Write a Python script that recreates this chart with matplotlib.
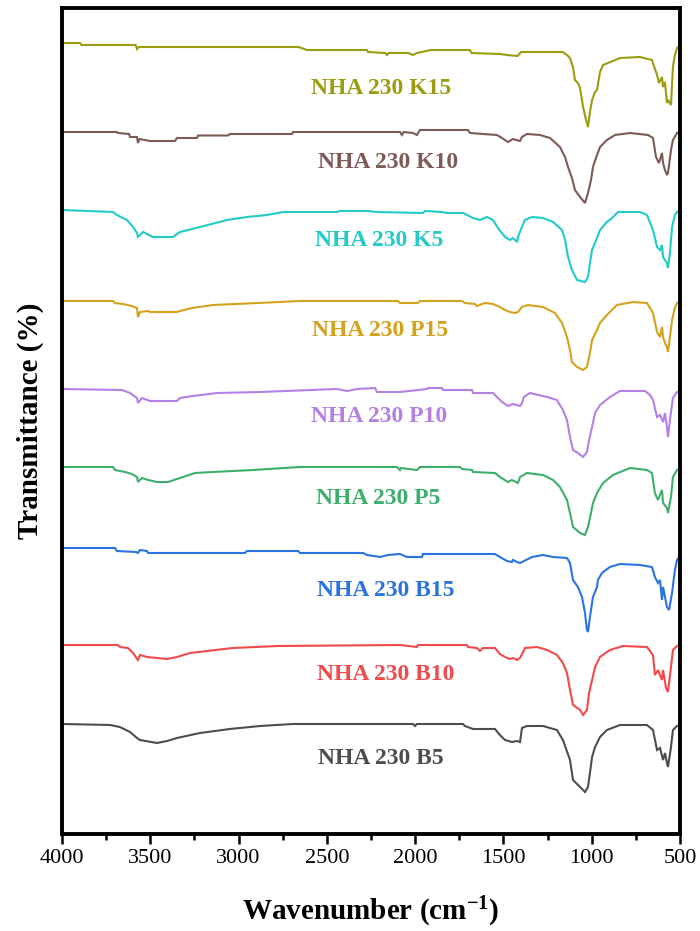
import matplotlib
matplotlib.use("Agg")
import matplotlib.pyplot as plt
from matplotlib.ticker import MultipleLocator

plt.rcParams['font.family'] = ['Liberation Serif', 'DejaVu Serif']
plt.rcParams['mathtext.fontset'] = 'custom'
plt.rcParams['mathtext.rm'] = 'Liberation Serif:bold'
plt.rcParams['mathtext.default'] = 'rm'

# ---- data: wavenumber (cm-1) and relative transmittance of each spectrum ----
labels = ["NHA 230 K15", "NHA 230 K10", "NHA 230 K5", "NHA 230 P15", "NHA 230 P10",
          "NHA 230 P5", "NHA 230 B15", "NHA 230 B10", "NHA 230 B5"]
colors = ["#9c9c10", "#7e5a55", "#22caca", "#d4a21c", "#b580e6",
          "#3dae6c", "#2a73e0", "#f24a4a", "#4d4d4d"]

wn_k15 = [4000, 3898, 3890, 3583, 3575, 3565, 2660, 2613, 2273, 2267, 2170, 2160, 2150, 2040, 2012, 1990,
          1910, 1690, 1680, 1520, 1480, 1420, 1400, 1165, 1140, 1123, 1106, 1095, 1078, 1066, 1049, 1032,
          1021, 1010, 998, 981, 970, 953, 936, 880, 840, 727, 659, 630, 619, 602, 596, 585, 574, 568, 551,
          540, 529, 517, 500]
t_k15 = [0, 0, -2, -2, -6, -4, -4, -7, -7, -9, -10, -12, -10, -10, -12, -10,
         -7, -7, -10, -11, -12, -13, -9, -9, -12, -15, -24, -37, -40, -45, -64, -77,
         -84, -69, -57, -49, -47, -29, -22, -18, -15, -14, -17, -32, -40, -34, -44, -39, -60, -57, -62,
         -24, -12, -5, -2]

wn_k10 = [4000, 3690, 3683, 3620, 3615, 3575, 3570, 3560, 3502, 3360, 3349, 3236, 3230, 3060, 3049, 2697,
          2692, 2086, 2075, 2065, 2012, 1990, 1973, 1701, 1689, 1537, 1508, 1474, 1446, 1406, 1395, 1367,
          1293, 1236, 1180, 1151, 1134, 1112, 1095, 1066, 1038, 1021, 1004, 993, 970, 953, 914, 868, 783,
          681, 653, 636, 619, 602, 596, 585, 574, 568, 551, 540, 517, 500]
t_k10 = [0, 0, -1, -2, -5, -5, -11, -7, -9, -9, -6, -6, -3.5, -3.5, -2, -2,
         0, 0, -3, 0, -1, -3, 2, 2, -1, -3, -6, -10, -7, -9, -5, -2,
         -3, -6, -15, -25, -35, -46, -58, -65, -71, -61, -48, -35, -23, -15, -8, -3, -1,
         -3, -6, -25, -31, -21, -31, -38, -43, -41, -18, -8, -1, 0]

wn_k5 = [4000, 3711, 3689, 3632, 3598, 3575, 3570, 3541, 3485, 3371, 3332, 3218, 3066, 2952, 2839, 2748,
         2443, 2426, 2273, 2216, 1956, 1944, 1848, 1820, 1729, 1672, 1633, 1593, 1559, 1531, 1491, 1463,
         1446, 1423, 1418, 1395, 1378, 1338, 1276, 1219, 1168, 1151, 1134, 1112, 1083, 1038, 1021, 1010,
         998, 970, 953, 914, 885, 851, 727, 687, 653, 630, 613, 602, 596, 574, 568, 557, 545, 529, 517, 500]
t_k5 = [0, -2, -5, -10, -17, -23, -27, -22, -27, -27, -22, -17, -10, -7, -5, -2,
        -2, -1, -1, -2, -3, -1, -2, -3, -3, -8, -10, -7, -10, -18, -27, -30,
        -28, -32, -27, -17, -10, -7, -8, -12, -20, -30, -47, -60, -70, -72, -67, -53,
        -40, -28, -20, -12, -8, -2, -2, -5, -20, -37, -40, -35, -47, -53, -58, -43, -17, -5, -2, -1]

wn_p15 = [4000, 3711, 3700, 3655, 3604, 3575, 3570, 3558, 3513, 3502, 3349, 3332, 3264, 3145, 2890, 2652,
          2097, 2086, 1984, 1973, 1735, 1718, 1661, 1650, 1605, 1559, 1520, 1491, 1463, 1434, 1418, 1395,
          1361, 1276, 1208, 1168, 1140, 1123, 1112, 1083, 1049, 1027, 1010, 998, 970, 953, 914, 857, 766,
          687, 653, 630, 613, 602, 596, 585, 574, 568, 557, 545, 529, 517, 500]
t_p15 = [0, 0, -2, -3, -5, -7, -16, -11, -10, -11, -11, -10, -7, -4, -2, 0,
         0, -2, -2, 0, 0, -2, -3, -5, -2, -3, -6, -9, -11, -12, -11, -6,
         -4, -6, -12, -22, -36, -49, -61, -66, -69, -66, -52, -39, -29, -22, -14, -4, -1,
         -2, -12, -31, -36, -26, -36, -42, -46, -51, -36, -19, -7, -2, -1]

wn_p10 = [4000, 3660, 3615, 3575, 3570, 3547, 3502, 3349, 3332, 3258, 3122, 2879, 2443, 2386, 2329, 2227,
          2216, 2086, 1933, 1927, 1848, 1842, 1678, 1672, 1559, 1537, 1508, 1474, 1446, 1406, 1395, 1384,
          1350, 1253, 1197, 1163, 1140, 1123, 1106, 1078, 1049, 1027, 1015, 998, 981, 953, 897, 840, 698,
          670, 653, 630, 613, 596, 585, 574, 568, 557, 540, 517, 500]
t_p10 = [0, -1, -4, -9, -14, -9, -12, -12, -9, -7, -4, -3, 0, -2, 0, 1,
         -3, -3, 0, 1, 1, -1, -1, -4, -4, -8, -13, -17, -15, -17, -14, -8,
         -4, -8, -11, -21, -31, -48, -61, -64, -68, -63, -51, -38, -24, -16, -8, -2, -2,
         -6, -11, -28, -26, -33, -24, -38, -48, -31, -9, -3, -2]

wn_p5 = [4000, 3711, 3700, 3643, 3604, 3575, 3570, 3547, 3513, 3462, 3400, 3332, 3247, 3145, 2918, 2652,
         2103, 2086, 2080, 1990, 1973, 1746, 1735, 1678, 1672, 1548, 1520, 1474, 1452, 1418, 1406, 1367,
         1276, 1219, 1180, 1140, 1123, 1106, 1066, 1038, 1021, 1004, 993, 970, 936, 880, 783, 687, 659,
         642, 625, 602, 596, 574, 568, 551, 540, 517, 500]
t_p5 = [0, 0, -3, -5, -7, -10, -15, -11, -13, -15, -15, -11, -6, -5, -3, 0,
        0, -3, -1, -3, 0, 0, -2, -3, -5, -6, -10, -15, -13, -16, -10, -6,
        -8, -13, -20, -33, -46, -60, -66, -68, -60, -46, -36, -26, -16, -8, -1, -3, -6,
        -26, -33, -23, -36, -41, -46, -30, -10, -3, -2]

wn_b15 = [4000, 3700, 3689, 3580, 3570, 3558, 3519, 3513, 2964, 2952, 2663, 2652, 2295, 2273, 2199, 2154,
          2086, 2046, 1961, 1956, 1548, 1520, 1480, 1452, 1446, 1423, 1406, 1338, 1276, 1219, 1140, 1123,
          1106, 1078, 1055, 1038, 1027, 1021, 1010, 993, 970, 965, 942, 897, 840, 727, 659, 642, 625,
          613, 602, 596, 574, 562, 545, 529, 517, 500]
t_b15 = [0, 0, -3, -4, -5, -2, -3, -5, -5, -3, -3, -5, -5, -7, -9, -7,
         -6, -9, -9, -6, -6, -9, -13, -14, -12, -14, -15, -9, -7, -9, -10, -15,
         -32, -39, -49, -65, -82, -84, -69, -49, -39, -32, -25, -19, -16, -17, -19, -29, -35,
         -32, -52, -39, -59, -62, -45, -22, -12, -8]

wn_b10 = [4000, 3683, 3672, 3626, 3598, 3570, 3558, 3519, 3462, 3405, 3349, 3275, 3179, 3032, 2777, 2086,
          1990, 1984, 1707, 1701, 1650, 1633, 1616, 1548, 1520, 1491, 1463, 1446, 1423, 1406, 1378, 1310,
          1253, 1197, 1163, 1140, 1123, 1106, 1066, 1049, 1027, 1015, 998, 981, 953, 897, 823, 687, 653,
          642, 625, 602, 596, 579, 568, 551, 540, 517, 500]
t_b10 = [0, 0, -2, -3, -8, -15, -10, -12, -13, -14, -12, -8, -6, -3, -1, 0,
         -2, 0, 0, -2, -3, -6, -3, -3, -9, -12, -14, -13, -15, -13, -3, -2,
         -5, -10, -18, -28, -45, -60, -65, -70, -65, -48, -35, -22, -12, -5, -1, -2, -10,
         -30, -25, -35, -25, -43, -47, -22, -5, -1, 0]

wn_b5 = [4000, 3728, 3672, 3615, 3575, 3558, 3462, 3405, 3349, 3218, 3049, 2879, 2692, 2012, 2001, 1990,
         1729, 1718, 1672, 1548, 1520, 1491, 1452, 1423, 1406, 1395, 1367, 1276, 1197, 1163, 1123, 1106,
         1066, 1038, 1021, 1010, 998, 981, 953, 914, 840, 687, 653, 630, 613, 596, 585, 574, 568, 551,
         540, 517, 500]
t_b5 = [0, -1, -3, -8, -14, -16, -19, -17, -14, -9, -5, -2, 0, 0, -2, 0,
        0, -2, -5, -5, -11, -16, -18, -17, -18, -4, -2, -2, -6, -16, -36, -56,
        -63, -68, -63, -49, -33, -23, -13, -6, -1, -1, -6, -26, -24, -36, -29, -39, -43, -23,
        -6, -2, -1]

wavenumbers = [wn_k15, wn_k10, wn_k5, wn_p15, wn_p10, wn_p5, wn_b15, wn_b10, wn_b5]
transmittance = [t_k15, t_k10, t_k5, t_p15, t_p10, t_p5, t_b15, t_b10, t_b5]

xticks = [4000, 3500, 3000, 2500, 2000, 1500, 1000, 500]

# ---- layout (stacking offsets and label placement) ----
offsets = [791, 702, 624, 533, 445, 367, 286, 189, 110]
label_x = [2193, 2154, 2205, 2199, 2205, 2210, 2165, 2165, 2193]
label_y = [746, 672, 594, 504, 417, 336, 244, 159, 76]

fig = plt.figure(figsize=(7.0, 9.31), dpi=100)
ax = fig.add_axes([62 / 700, (931 - 834) / 931, 618 / 700, 826 / 931])

for wn, t, off, c in zip(wavenumbers, transmittance, offsets, colors):
    ax.plot(wn, [v + off for v in t], color=c, lw=1.5, solid_joinstyle='miter')

for lab, x, y, c in zip(labels, label_x, label_y, colors):
    ax.text(x, y, lab, color=c, fontsize=17, fontweight='bold', ha='center', va='center',
            family='Liberation Serif')

ax.set_xlim(4000, 500)
ax.set_ylim(0, 826)
ax.set_xticks(xticks)
ax.set_xticklabels([str(v) for v in xticks])
ax.xaxis.set_minor_locator(MultipleLocator(250))
ax.set_yticks([])
ax.tick_params(axis='x', which='major', direction='out', length=7.5, width=1.8,
               labelsize=16, pad=3)
ax.tick_params(axis='x', which='minor', direction='out', length=4, width=1.8)
ax.tick_params(axis='x', top=False)
for s in ax.spines.values():
    s.set_linewidth(2.8)

fig.text(371 / 700, 1 - 912 / 931, r"Wavenumber (cm$^{-1}$)", ha='center', va='center',
         fontsize=21, fontweight='bold', family='Liberation Serif')
fig.text(30 / 700, 1 - 421 / 931, "Transmittance (%)", ha='center', va='center',
         rotation=90, fontsize=21, fontweight='bold', family='Liberation Serif')

fig.savefig("out.png", dpi=100)
